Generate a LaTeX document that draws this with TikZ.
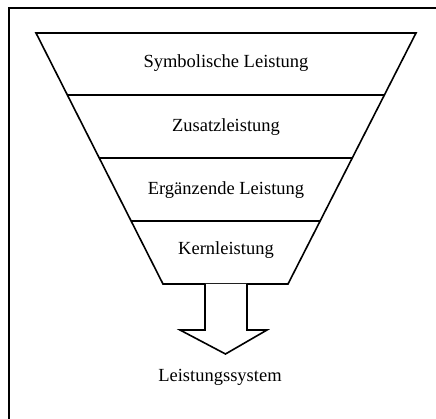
\documentclass[tikz,border=0pt]{standalone}
\usepackage{fontspec}
\setmainfont{Liberation Serif}
\begin{document}
\begin{tikzpicture}[x=1pt,y=-1pt,
  frameline/.style={line width=1.6pt},
  funnel/.style={line width=1.6pt, line join=miter},
  label/.style={font=\fontsize{18.5}{20}\selectfont, inner sep=0pt, anchor=center},
  blockarrow/.style={line width=1.6pt, fill=white, line join=miter}]
  \useasboundingbox (0,0) rectangle (436,419);

  % open frame: top and left edge
  \draw[frameline] (436,8) -- (9,8) -- (9,419);

  % funnel outline
  \draw[funnel] (36,33) -- (416,33) -- (288,284) -- (163,284) -- cycle;
  % band separators
  \draw[funnel] (67.4,95) -- (384.4,95);
  \draw[funnel] (99.2,158) -- (352.3,158);
  \draw[funnel] (131.1,221) -- (320.1,221);

  % band labels
  \node[label] (sym)  at (226,63)  {Symbolische Leistung};
  \node[label] (zus)  at (226,127) {Zusatzleistung};
  \node[label] (erg)  at (226,190) {Ergänzende Leistung};
  \node[label] (kern) at (226,250) {Kernleistung};

  % block arrow down to the result
  \draw[blockarrow] (205,284) -- (205,330) -- (180,330) -- (225.5,354)
    -- (267,330) -- (247,330) -- (247,284);

  \node[label] (sys) at (220,377) {Leistungssystem};
\end{tikzpicture}
\end{document}
